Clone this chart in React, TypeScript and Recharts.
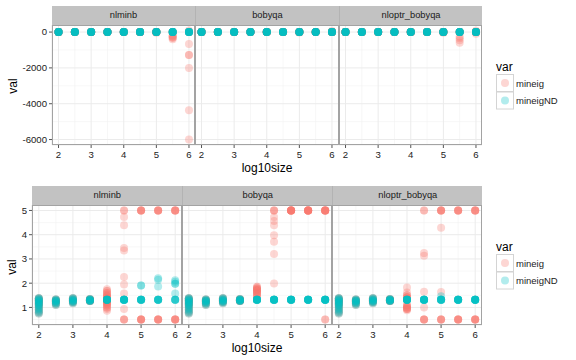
import React from "react";
import { ScatterChart, Scatter, XAxis, YAxis, CartesianGrid } from "recharts";

const sizes = [2, 2.5, 3, 3.5, 4, 4.5, 5, 5.5, 6];
const facets = ["nlminb", "bobyqa", "nloptr_bobyqa"];
const sizeTicks = [2, 3, 4, 5, 6];
const sizeMinor = [2.5, 3.5, 4.5, 5.5];
const rawTicks = [0, -2000, -4000, -6000];
const rawMinor = [-1000, -3000, -5000];
const clipTicks = [1, 2, 3, 4, 5];
const clipMinor = [0.5, 1.5, 2.5, 3.5, 4.5];

const RED = "#F8766D";
const TEAL = "#00BFC4";
const ALPHA = 0.3;

// one entry per log10size: [val, number of overlapping runs]
type Col = [number, number][];
const zero: Col = [[0, 10]];

// top plot (raw values)
const rawNlminbMineig: Col[] = [
  zero, zero, zero, zero, zero, zero,
  [[0, 9], [-40, 1]],
  [[0, 4], [-180, 1], [-250, 2], [-320, 2], [-400, 1]],
  [[0, 3], [90, 1], [-660, 1], [-1280, 2], [-2000, 1], [-4370, 1], [-6000, 1]],
];
const rawNlminbND: Col[] = [zero, zero, zero, zero, zero, zero, zero, zero, zero];
const rawBobyqaMineig: Col[] = [
  zero, zero, zero, zero, zero, zero,
  [[0, 9], [-30, 1]],
  zero,
  [[0, 9], [60, 1]],
];
const rawBobyqaND: Col[] = [zero, zero, zero, zero, zero, zero, zero, zero, zero];
const rawNloptrMineig: Col[] = [
  zero, zero, zero, zero, zero, zero,
  [[0, 9], [-40, 1]],
  [[0, 6], [-260, 1], [-340, 1], [-450, 1], [-600, 1]],
  [[0, 8], [70, 1], [-90, 1]],
];
const rawNloptrND: Col[] = [zero, zero, zero, zero, zero, zero, zero, zero, zero];

// bottom plot (clipped values), small sizes look the same everywhere
const low2: Col = [[1.38, 2], [1.33, 2], [1.28, 2], [1.22, 2], [1.16, 2], [1.1, 2], [1.04, 1], [0.98, 1], [0.92, 1], [0.86, 1], [0.8, 1], [0.75, 1]];
const low25: Col = [[1.33, 2], [1.28, 3], [1.22, 2], [1.16, 2], [1.1, 1]];
const low3: Col = [[1.38, 2], [1.33, 2], [1.28, 3], [1.22, 2], [1.17, 1]];
const low35: Col = [[1.34, 3], [1.3, 4], [1.26, 3]];
const flat: Col = [[1.32, 10]];

const clipNlminbMineig: Col[] = [
  low2, low25, low3, low35,
  [[1.75, 1], [1.68, 2], [1.6, 2], [1.52, 2], [1.45, 3], [1.38, 3], [1.3, 2], [1.22, 3], [1.15, 3], [1.08, 2], [1.0, 2], [0.93, 1], [0.86, 1]],
  [[5, 2], [4.73, 1], [4.39, 1], [3.45, 1], [3.35, 1], [2.25, 1], [1.95, 1], [1.57, 1], [0.93, 1], [0.5, 3]],
  [[5, 5], [0.5, 5]],
  [[5, 5], [0.5, 5]],
  [[5, 5], [0.5, 5]],
];
const clipNlminbND: Col[] = [
  low2, low25, low3, low35, flat, flat,
  [[1.32, 8], [1.9, 2]],
  [[1.32, 7], [1.86, 1], [2.14, 1], [2.2, 1]],
  [[1.32, 5], [1.57, 1], [1.98, 2], [2.06, 1], [2.12, 1]],
];
const clipBobyqaMineig: Col[] = [
  low2, low25, low3, low35,
  [[1.85, 2], [1.78, 3], [1.72, 3], [1.66, 3], [1.6, 2], [1.52, 2], [1.44, 2]],
  [[5, 3], [4.73, 1], [4.56, 1], [4.39, 1], [3.98, 1], [3.71, 1], [3.2, 1], [1.99, 1]],
  [[5, 10]],
  [[5, 10]],
  [[5, 8], [0.5, 2]],
];
const clipBobyqaND: Col[] = [low2, low25, low3, low35, flat, flat, flat, flat, flat];
const clipNloptrMineig: Col[] = [
  low2, low25, low3, low35,
  [[1.82, 1], [1.62, 1], [1.5, 2], [1.42, 3], [1.36, 2], [1.08, 3], [1.0, 3], [0.93, 3], [0.88, 1]],
  [[5, 2], [3.24, 1], [3.13, 1], [1.65, 1], [1.0, 1], [0.5, 4]],
  [[5, 5], [4.29, 1], [1.64, 1], [0.5, 4]],
  [[5, 5], [0.5, 5]],
  [[5, 5], [0.5, 5]],
];
const clipNloptrND: Col[] = [
  low2, low25, low3, low35, flat, flat,
  [[1.32, 8], [1.46, 1]],
  flat, flat,
];

const toPoints = (cols: Col[]) =>
  cols.flatMap((col, i) =>
    col.flatMap(([v, n]) => Array.from({ length: n }, () => ({ x: sizes[i], val: v })))
  );

const rawSeries = [
  [rawNlminbMineig, rawNlminbND],
  [rawBobyqaMineig, rawBobyqaND],
  [rawNloptrMineig, rawNloptrND],
];
const clipSeries = [
  [clipNlminbMineig, clipNlminbND],
  [clipBobyqaMineig, clipBobyqaND],
  [clipNloptrMineig, clipNloptrND],
];

const font = '"Liberation Sans", Arial, Helvetica, sans-serif';

const dot = (color: string) => (p: any) =>
  <circle cx={p.cx} cy={p.cy} r={4} fill={color} fillOpacity={ALPHA} />;

type RowCfg = {
  top: number;
  height: number;
  lefts: number[];
  width: number;
  axisW: number;
  domain: [number, number];
  ticks: number[];
  minor: number[];
  stripTop: number;
};

const topRow: RowCfg = {
  top: 25, height: 120, lefts: [51.7, 195.2, 338.8], width: 143.5, axisW: 52,
  domain: [-6304.5, 394.5], ticks: rawTicks, minor: rawMinor, stripTop: 6,
};
const bottomRow: RowCfg = {
  top: 205, height: 120, lefts: [32.3, 182.3, 332.3], width: 150, axisW: 32,
  domain: [0.275, 5.225], ticks: clipTicks, minor: clipMinor, stripTop: 186,
};

function Panel({ cfg, idx, series }: { cfg: RowCfg; idx: number; series: Col[][] }) {
  const showY = idx === 0;
  const aw = showY ? cfg.axisW : 0;
  const left = cfg.lefts[idx];
  return (
    <>
      <div style={{ position: "absolute", left: left - aw, top: cfg.top }}>
        <ScatterChart width={cfg.width + aw} height={cfg.height + 24} margin={{ top: 0, right: 0, bottom: 0, left: 0 }}>
          <CartesianGrid stroke="#f2f2f2" strokeWidth={0.6} horizontalValues={cfg.minor} verticalValues={sizeMinor} />
          <CartesianGrid stroke="#ebebeb" strokeWidth={1} />
          <XAxis
            type="number"
            dataKey="x"
            domain={[1.8, 6.2]}
            ticks={sizeTicks}
            interval={0}
            allowDataOverflow
            axisLine={false}
            tickSize={3}
            tickMargin={3}
            tickLine={{ stroke: "#555" }}
            tick={{ fontSize: 9.6, fill: "#222" }}
            height={24}
          />
          <YAxis
            type="number"
            dataKey="val"
            domain={cfg.domain}
            ticks={cfg.ticks}
            interval={0}
            allowDataOverflow
            hide={!showY}
            width={cfg.axisW}
            axisLine={false}
            tickSize={3}
            tickMargin={2}
            tickLine={{ stroke: "#555" }}
            tick={{ fontSize: 9.6, fill: "#222" }}
          />
          <Scatter data={toPoints(series[0])} fill={RED} shape={dot(RED)} isAnimationActive={false} />
          <Scatter data={toPoints(series[1])} fill={TEAL} shape={dot(TEAL)} isAnimationActive={false} />
        </ScatterChart>
      </div>
      <div
        style={{
          position: "absolute", left, top: cfg.top, width: cfg.width, height: cfg.height,
          border: "1px solid #a3a3a3", boxSizing: "border-box", pointerEvents: "none",
        }}
      />
      <div
        style={{
          position: "absolute", left, top: cfg.stripTop, width: cfg.width, height: cfg.top - cfg.stripTop,
          background: "#c2c2c2", color: "#1a1a1a", fontSize: 9.3, textAlign: "center",
          lineHeight: `${cfg.top - cfg.stripTop}px`, borderLeft: idx > 0 ? "1px solid #b3b3b3" : "none",
          boxSizing: "border-box",
        }}
      >
        {facets[idx]}
      </div>
    </>
  );
}

function Legend({ top }: { top: number }) {
  return (
    <div style={{ position: "absolute", left: 496, top }}>
      <div style={{ fontSize: 12, lineHeight: "14px", height: 14 }}>var</div>
      <svg width={80} height={38} style={{ display: "block", marginTop: 0 }}>
        {[RED, TEAL].map((c, i) => (
          <g key={c}>
            <rect x={0.5} y={0.5 + i * 17.5} width={17} height={17} fill="#fff" stroke="#d4d4d4" />
            <circle cx={9} cy={9 + i * 17.5} r={4} fill={c} fillOpacity={ALPHA} />
            <text x={20} y={12.5 + i * 17.5} fontSize={9.5} fill="#1a1a1a" fontFamily={font}>
              {i === 0 ? "mineig" : "mineigND"}
            </text>
          </g>
        ))}
      </svg>
    </div>
  );
}

function YTitle({ x, y }: { x: number; y: number }) {
  return (
    <div
      style={{
        position: "absolute", left: x - 20, top: y - 8, width: 40, height: 16, textAlign: "center",
        fontSize: 12, lineHeight: "16px", transform: "rotate(-90deg)",
      }}
    >
      val
    </div>
  );
}

function XTitle({ x, y }: { x: number; y: number }) {
  return (
    <div
      style={{
        position: "absolute", left: x - 50, top: y - 8, width: 100, height: 16, textAlign: "center",
        fontSize: 12, lineHeight: "16px",
      }}
    >
      log10size
    </div>
  );
}

export default function App() {
  return (
    <div
      style={{
        position: "absolute", left: 0, top: 0, width: 576, height: 360, background: "#fff",
        fontFamily: font, color: "#000", overflow: "hidden",
      }}
    >
      {[0, 1, 2].map((i) => (
        <Panel key={`t${i}`} cfg={topRow} idx={i} series={rawSeries[i]} />
      ))}
      {[0, 1, 2].map((i) => (
        <Panel key={`b${i}`} cfg={bottomRow} idx={i} series={clipSeries[i]} />
      ))}
      <YTitle x={13} y={86} />
      <YTitle x={12} y={267} />
      <XTitle x={267} y={168} />
      <XTitle x={257} y={348} />
      <Legend top={60} />
      <Legend top={240} />
    </div>
  );
}
